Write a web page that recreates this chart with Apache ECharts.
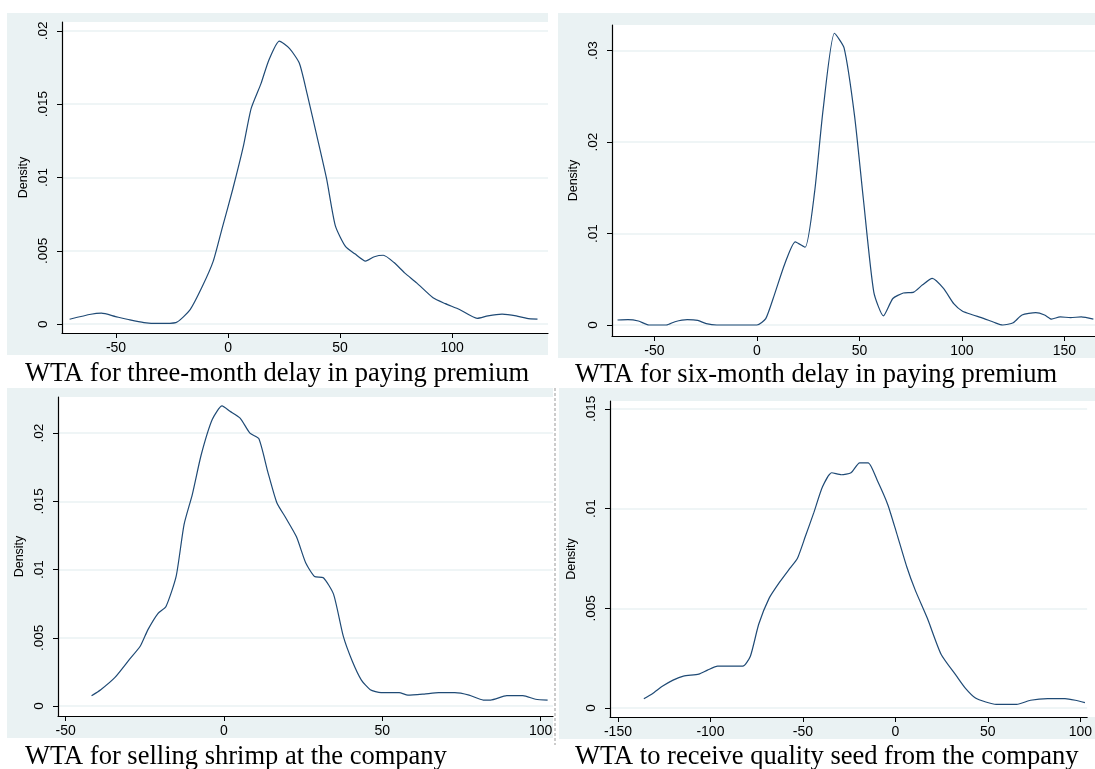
<!DOCTYPE html>
<html>
<head>
<meta charset="utf-8">
<script src="https://cdn.jsdelivr.net/npm/echarts@6/dist/echarts.min.js"></script>
<style>
html,body{margin:0;padding:0;background:#fff;}
#chart{width:1095px;height:769px;}
</style>
</head>
<body>
<div id="chart"></div>
<script>
// ---------- DATA ----------
const captions = [
  'WTA for three-month delay in paying premium',
  'WTA for six-month delay in paying premium',
  'WTA for selling shrimp at the company',
  'WTA to receive quality seed from the company'
];
const yName = 'Density';

// Panel 1: three-month delay
const x1 = [-70.7,-61.2,-56.5,-50.2,-43.8,-37.5,-31.2,-23.3,-16.9,-11.4,-6.6,-2.7,2.1,6.8,10.3,14.7,18.2,22.9,27.4,31.8,35.3,40.0,44.0,47.9,52.4,56.6,61.4,65.3,69.3,74.1,78.8,84.3,91.5,97.0,103.3,111.2,116.0,122.3,128.6,133.4,138.1];
const y1 = [0.00034,0.00068,0.00075,0.00052,0.00029,0.00011,0.00005,0.00011,0.0010,0.0026,0.0043,0.0065,0.0092,0.0121,0.0147,0.0164,0.0180,0.0193,0.0188,0.0178,0.0157,0.0126,0.0099,0.0067,0.0053,0.0048,0.0043,0.0046,0.0047,0.0042,0.0035,0.0028,0.0018,0.0014,0.0010,0.0004,0.00057,0.00068,0.00057,0.0004,0.00034];

// Panel 2: six-month delay
const x2 = [-68,-62.9,-57.8,-52.7,-44.2,-40,-34,-28.9,-24.7,-19.6,0,4.3,8.5,13.6,18.7,23.5,28.1,32.3,37.8,42.5,47.6,51.9,57.0,61.7,66.3,71.4,76.5,80.8,85.5,91,96.1,100.3,105.4,110.5,115.6,119.9,125,129.3,136,140.3,143.7,147.9,153,158.2,164.1];
const y2 = [0.00055,0.0006,0.00044,0,0,0.00036,0.00058,0.0005,0.00015,0,0,0.0007,0.0033,0.0067,0.0091,0.0085,0.0145,0.0236,0.0319,0.0303,0.0229,0.0138,0.0036,0.0010,0.0029,0.0035,0.0036,0.0044,0.0051,0.0040,0.0023,0.0015,0.0011,0.00073,0.0003,0,0.00025,0.0011,0.00135,0.0011,0.00065,0.0009,0.0008,0.0009,0.00065];

// Panel 3: selling shrimp
const x3 = [-41.8,-38.9,-34.4,-29.9,-26.4,-24,-20.8,-18.3,-15.1,-12.6,-10,-7.2,-3.7,-0.6,1.9,5.1,8.2,11,13.8,16.7,19.5,22.9,25.8,28.6,31.4,34.6,37.7,40.5,43.4,46.2,49.6,55.3,58.1,63.2,67.8,72.9,77.4,81.9,84.2,89.3,94.4,98.4,102.2];
const y3 = [0.00076,0.0012,0.0021,0.0034,0.0044,0.0056,0.0068,0.0073,0.0095,0.0133,0.0155,0.0184,0.0210,0.0220,0.0216,0.0211,0.0200,0.0196,0.0172,0.0149,0.0138,0.0124,0.0105,0.0095,0.0094,0.0082,0.0051,0.0033,0.0019,0.0012,0.00098,0.00098,0.0008,0.00088,0.00098,0.00098,0.0008,0.00044,0.00044,0.00076,0.00076,0.0005,0.00044];

// Panel 4: quality seed
const x4 = [-136,-131.4,-125.8,-120.2,-114.6,-106.3,-101.6,-96.1,-92.3,-88.6,-82.5,-78.4,-73.9,-68.3,-62.7,-57.1,-53,-48.7,-44.1,-39.4,-34.4,-29.2,-24,-19.3,-14.7,-9.7,-4.1,0.6,6.1,10.8,17.3,24.7,33.1,37.8,43.3,48.9,54.5,65.6,73.1,82.4,91.7,97.3,102.5];
const y4 = [0.00047,0.00072,0.0011,0.0014,0.0016,0.0017,0.0019,0.0021,0.0021,0.0021,0.0021,0.0026,0.0042,0.0055,0.0063,0.0070,0.0075,0.0086,0.0098,0.0111,0.0118,0.0117,0.0118,0.0123,0.0123,0.0114,0.0102,0.0088,0.0071,0.0059,0.0045,0.0027,0.0016,0.0010,0.0005,0.0003,0.00018,0.00018,0.00039,0.00047,0.00047,0.00039,0.00027];

// Tick values and labels
const xTicks1 = [-50, 0, 50, 100];
const xTicks2 = [-50, 0, 50, 100, 150];
const xTicks3 = [-50, 0, 50, 100];
const xTicks4 = [-150, -100, -50, 0, 50, 100];
const yTicks1 = [0, 0.005, 0.01, 0.015, 0.02];
const yLabels1 = ['0', '.005', '.01', '.015', '.02'];
const yTicks2 = [0, 0.01, 0.02, 0.03];
const yLabels2 = ['0', '.01', '.02', '.03'];
const yTicks3 = [0, 0.005, 0.01, 0.015, 0.02];
const yLabels3 = ['0', '.005', '.01', '.015', '.02'];
const yTicks4 = [0, 0.005, 0.01, 0.015];
const yLabels4 = ['0', '.005', '.01', '.015'];

// ---------- LAYOUT / STYLE ----------
const BG = '#eaf2f3';
const LINE = '#1f4a75';
const panels = [
  {grid:{left:62, top:22, width:486, height:311}, xr:[-74.1,142.8], yr:[-0.0006,0.0206], xs:x1, ys:y1, xt:xTicks1, yt:yTicks1, yl:yLabels1,
   bg:[7,13,541,342], cap:[25,374]},
  {grid:{left:612, top:25, width:483, height:311}, xr:[-70.7,164.9], yr:[-0.0012,0.0328], xs:x2, ys:y2, xt:xTicks2, yt:yTicks2, yl:yLabels2,
   bg:[558,13,537,345], cap:[575,375]},
  {grid:{left:58, top:397, width:495, height:319}, xr:[-52.4,103.9], yr:[-0.00073,0.02265], xs:x3, ys:y3, xt:xTicks3, yt:yTicks3, yl:yLabels3,
   bg:[7,388,546,350], cap:[25,757]},
  {grid:{left:610, top:401, width:485, height:316}, xr:[-154.3,103.7], yr:[-0.00045,0.0154], xs:x4, ys:y4, xt:xTicks4, yt:yTicks4, yl:yLabels4,
   bg:[559,388,536,351], cap:[575,757]}
];

const grids = [], xAxes = [], yAxes = [], series = [], graphics = [];
panels.forEach((p, i) => {
  graphics.push({type:'rect', z:-10, shape:{x:p.bg[0], y:p.bg[1], width:p.bg[2], height:p.bg[3]}, style:{fill:BG}, silent:true});
  graphics.push({type:'rect', z:-9, shape:{x:p.grid.left, y:p.grid.top, width:p.grid.width, height:p.grid.height}, style:{fill:'#ffffff'}, silent:true});
  graphics.push({type:'text', z:5, x:p.cap[0], y:p.cap[1], style:{text:captions[i], font:'26.5px "Liberation Serif"', fill:'#000', verticalAlign:'middle'}});
  grids.push(Object.assign({containLabel:false, show:false}, p.grid));
  xAxes.push({
    type:'value', gridIndex:i, min:p.xr[0], max:p.xr[1],
    axisLine:{show:true, onZero:false, lineStyle:{color:'#000', width:1.2}},
    axisTick:{show:true, length:5, lineStyle:{color:'#000'}, customValues:p.xt},
    axisLabel:{color:'#000', fontSize:14, fontFamily:'Liberation Sans', margin:8, customValues:p.xt},
    splitLine:{show:false}
  });
  const ymap = {};
  p.yt.forEach((v, k) => { ymap[v.toFixed(4)] = p.yl[k]; });
  yAxes.push({
    type:'value', gridIndex:i, min:p.yr[0], max:p.yr[1],
    name:yName, nameLocation:'middle', nameGap:32, nameRotate:90,
    nameTextStyle:{color:'#000', fontSize:12.5, fontFamily:'Liberation Sans'},
    axisLine:{show:true, onZero:false, lineStyle:{color:'#000', width:1.2}},
    axisTick:{show:true, length:5, lineStyle:{color:'#000'}, customValues:p.yt},
    axisLabel:{color:'#000', fontSize:13.5, fontFamily:'Liberation Sans', rotate:90, margin:12, customValues:p.yt,
      formatter:(v) => ymap[Number(v).toFixed(4)] !== undefined ? ymap[Number(v).toFixed(4)] : ''},
    splitLine:{show:true, lineStyle:{color:BG, width:1.5}}
  });
  series.push({
    type:'line', xAxisIndex:i, yAxisIndex:i, showSymbol:false, smooth:0.2,
    lineStyle:{color:LINE, width:1.2}, data:p.xs.map((x, k) => [x, p.ys[k]]), z:3
  });
});
graphics.push({type:'line', z:-5, shape:{x1:555, y1:388, x2:555, y2:745}, style:{stroke:'#999', lineWidth:1, lineDash:[3,2]}, silent:true});

const chart = echarts.init(document.getElementById('chart'), null, {renderer:'canvas'});
chart.setOption({
  animation:false,
  backgroundColor:'#ffffff',
  grid:grids, xAxis:xAxes, yAxis:yAxes, series:series, graphic:graphics
});
</script>
</body>
</html>
